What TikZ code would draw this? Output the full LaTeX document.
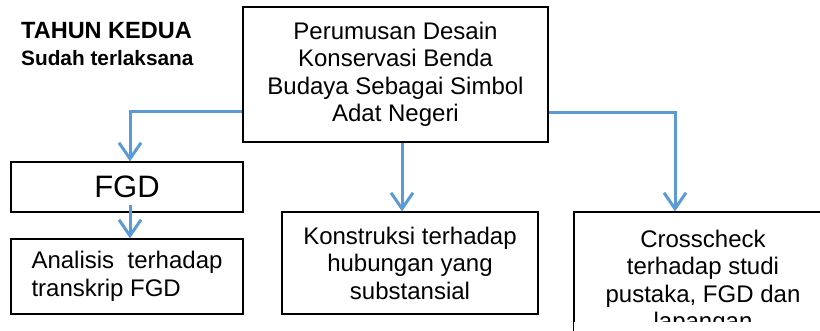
\documentclass[tikz,border=0pt]{standalone}
\usepackage{fontspec}
\setmainfont{Liberation Sans}
\usetikzlibrary{arrows.meta,positioning}
\definecolor{linkblue}{RGB}{91,155,213}
\newcommand{\boxtext}{\fontsize{24}{27.5}\selectfont}
\tolerance=10000

\begin{document}
\begin{tikzpicture}[x=1pt, y=-1pt, on grid, node distance=89.5pt,
    box/.style={draw, line width=1.2pt, align=center, inner sep=0pt, font=\boxtext},
    link/.style={draw=linkblue, line width=3pt, -{Straight Barb[length=16pt,width=22pt]}}]
  \clip (0,0) rectangle (820,331);
  \node[anchor=base west, inner sep=0pt, font=\fontsize{23.5}{27}\selectfont\bfseries] (tahun) at (21,39) {TAHUN KEDUA};
  \node[anchor=base west, inner sep=0pt, font=\fontsize{20.8}{24}\selectfont\bfseries] (sudah) at (21,66) {Sudah terlaksana};

  \node[box, minimum width=305pt, minimum height=135pt] (desain) at (395.5,74.5) {Perumusan Desain\\Konservasi Benda\\Budaya Sebagai Simbol\\Adat Negeri};
  \node[box, minimum width=232pt, minimum height=50pt, font=\fontsize{31}{36}\selectfont] (fgd) at (127,187) {FGD};
  \node[box, minimum width=232pt, minimum height=75pt, text width=191pt, align=justify] (analisis) [below=of fgd] {Analisis terhadap transkrip FGD};
  \node[box, minimum width=256pt, minimum height=102pt] (konstruksi) at (410,263) {Konstruksi terhadap\\hubungan yang\\substansial};
  \begin{scope}
    \clip (560,200) rectangle (820,322);
    \node[box, minimum width=258pt, minimum height=141pt] (cross) at (703,282.5) {Crosscheck\\terhadap studi\\pustaka, FGD dan\\lapangan};
  \end{scope}
  \draw[line width=1.2pt] (cross.north west) -- (cross.south west);

  \coordinate (kontop) at ([xshift=-8pt]konstruksi.north);
  \coordinate (crosstop) at ([xshift=-28pt]cross.north);
  \draw[link] ([yshift=-37.5pt]desain.west) -| ([xshift=3pt]fgd.north);
  \draw[link] ([xshift=3pt,yshift=8pt]fgd.south) -- ([xshift=3pt]analisis.north);
  \draw[link] (desain.south -| kontop) -- (kontop);
  \draw[link] ([yshift=-38.5pt]desain.east) -| (crosstop);
\end{tikzpicture}
\end{document}
